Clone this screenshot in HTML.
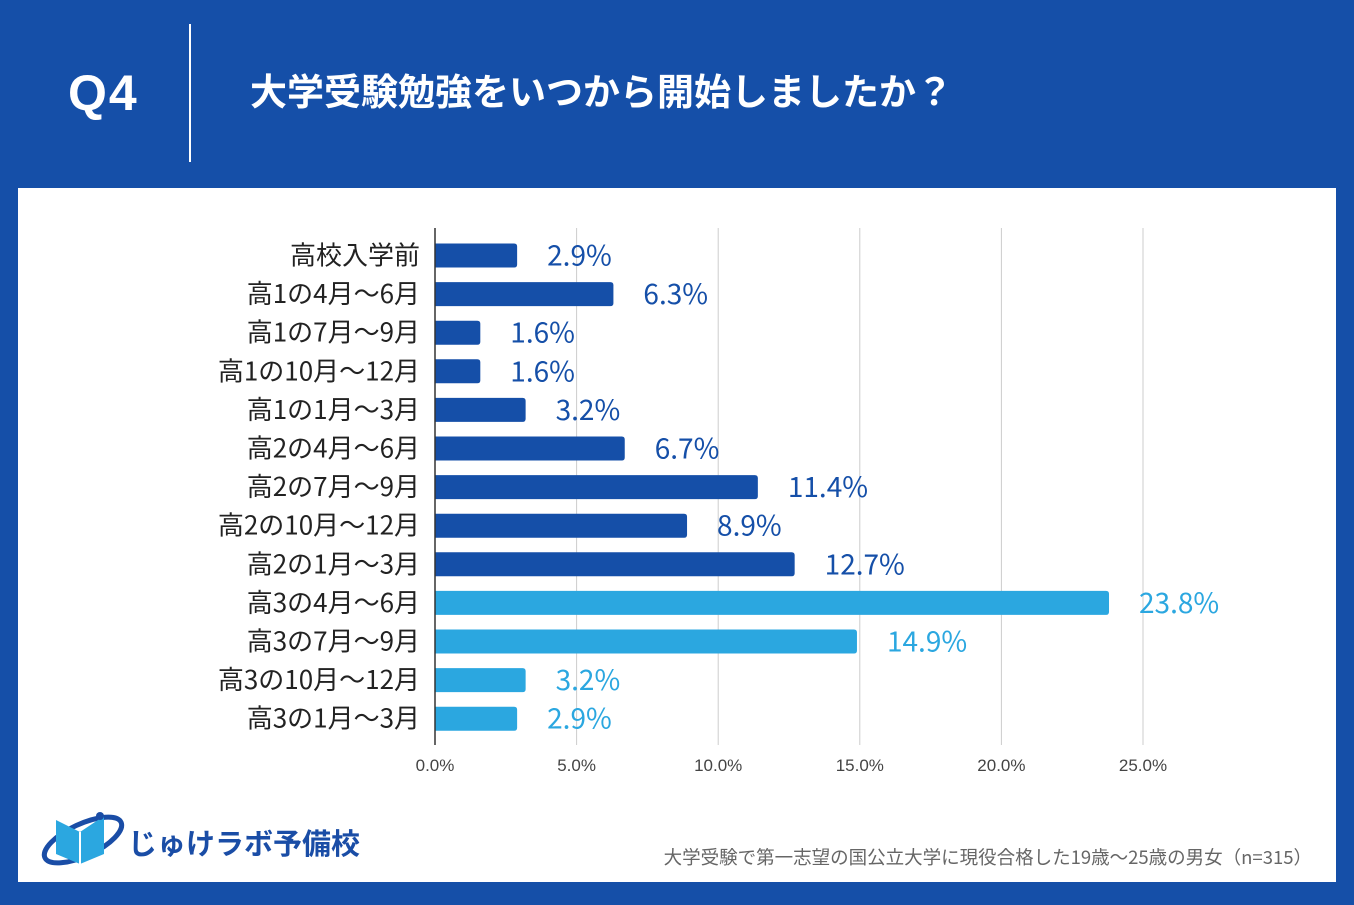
<!DOCTYPE html>
<html><head><meta charset="utf-8"><style>
body{margin:0;width:1354px;height:905px;background:#154FA8;overflow:hidden;font-family:"Liberation Sans","Noto Sans CJK JP",sans-serif;position:relative}
#panel{position:absolute;left:18px;top:188px;width:1318px;height:694px;background:#fff}
#q{position:absolute;left:68px;top:64px;color:#fff;font:bold 50px "Liberation Sans",sans-serif;letter-spacing:2px}
#vline{position:absolute;left:189px;top:24px;width:2px;height:138px;background:#fff}
#title{position:absolute;left:250px;top:62px;color:#fff;font-weight:bold;font-size:37px;font-family:"Noto Sans CJK JP",sans-serif;white-space:nowrap}
#note{position:absolute;right:42px;top:844px;color:#666;font-size:18.5px;font-family:"Noto Sans CJK JP",sans-serif;white-space:nowrap}
#logo{position:absolute;left:38px;top:806px}
</style></head><body>
<div id="q">Q4</div>
<div id="vline"></div>
<div id="title">大学受験勉強をいつから開始しましたか？</div>
<div id="panel"></div>
<svg id="chart" width="1354" height="905" style="position:absolute;left:0;top:0"></svg>
<svg id="logo" width="340" height="64">
<ellipse cx="45" cy="34" rx="42" ry="16" fill="none" stroke="#1A4DA6" stroke-width="5" transform="rotate(-25 45 34)"/>
<path d="M18 14 L42 26 L66 10 L66 48 L42 58 L18 48Z" fill="#2BA7E0"/>
<path d="M42 26 L42 58" stroke="#fff" stroke-width="2"/>
<circle cx="62" cy="10" r="4" fill="#1A4DA6"/>
<text x="90" y="48" font-size="29" font-weight="bold" fill="#1A4DA6" font-family="Noto Sans CJK JP,sans-serif">じゅけラボ予備校</text>
</svg>
<div id="note">大学受験で第一志望の国公立大学に現役合格した19歳〜25歳の男女（n=315）</div>
<script>
const categories=["高校入学前","高1の4月〜6月","高1の7月〜9月","高1の10月〜12月","高1の1月〜3月","高2の4月〜6月","高2の7月〜9月","高2の10月〜12月","高2の1月〜3月","高3の4月〜6月","高3の7月〜9月","高3の10月〜12月","高3の1月〜3月"];
const values=[2.9,6.3,1.6,1.6,3.2,6.7,11.4,8.9,12.7,23.8,14.9,3.2,2.9];
const ticks=[0,5,10,15,20,25];
const tickLabels=["0.0%","5.0%","10.0%","15.0%","20.0%","25.0%"];
const svg=document.getElementById('chart');const NS='http://www.w3.org/2000/svg';
const x0=435,pxPer=(1143-435)/25,y0=255.5,step=38.6,bh=24;
const X=v=>x0+v*pxPer, Y=i=>y0+i*step;
function mk(t,a){const e=document.createElementNS(NS,t);for(const k in a)e.setAttribute(k,a[k]);svg.appendChild(e);return e;}
ticks.forEach((t,i)=>{
 if(i>0){const g=mk('line',{x1:X(t),x2:X(t),y1:228,y2:745,stroke:'#ccc','stroke-width':1});
 
 }
 const l=mk('text',{x:X(t),y:771,'text-anchor':'middle','font-size':17,fill:'#444'});l.textContent=tickLabels[i];
 
 
});
categories.forEach((c,i)=>{
 const col=i>=9?'#2BA7E0':'#154FA8';
 const w=X(values[i])-x0;
 const b=mk('path',{d:`M${x0} ${Y(i)-bh/2} h${w-3} q3 0 3 3 v${bh-6} q0 3 -3 3 h${-(w-3)}z`,fill:col});
 
 
 const t=mk('text',{x:420,y:Y(i)+9,'text-anchor':'end','font-size':26,fill:'#222','font-family':'Noto Sans CJK JP,sans-serif'});t.textContent=c;
 
 
 const v=mk('text',{x:X(values[i])+30,y:Y(i)+10,'font-size':28,fill:col,'font-family':'Noto Sans CJK JP,sans-serif'});v.textContent=values[i].toFixed(1)+'%';
 
 
});
const ax=mk('line',{x1:x0,x2:x0,y1:228,y2:745,stroke:'#333','stroke-width':1.5});


</script>
</body></html>
